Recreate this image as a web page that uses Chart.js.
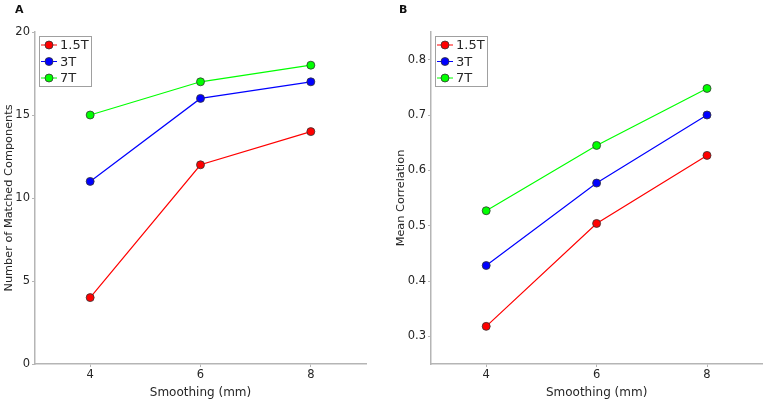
<!DOCTYPE html>
<html>
<head>
<meta charset="utf-8">
<script src="https://cdn.jsdelivr.net/npm/chart.js@4"></script>
<style>
  body { margin: 0; background: #fff; }
  #wrap { position: relative; width: 767px; height: 400px; font-family: "DejaVu Sans", sans-serif; }
  .panel { position: absolute; top: 0; height: 400px; }
  .tag { position: absolute; top: 3px; font-weight: bold; font-size: 11px; color: #111; }
</style>
</head>
<body>
<div id="wrap">
  <div class="panel" style="left:0;width:383px"><canvas id="chartA"></canvas></div>
  <div class="panel" style="left:383px;width:384px"><canvas id="chartB"></canvas></div>
  <div class="tag" style="left:15px">A</div>
  <div class="tag" style="left:399px">B</div>
</div>
<script>
// smoothing kernel sizes (mm)
const smoothing = [4, 6, 8];
const fields = ['1.5T', '3T', '7T'];
const colors = ['#ff0000', '#0000ff', '#00ff00'];

// panel A: number of matched components
const matched15 = [4, 12, 14];
const matched3 = [11, 16, 17];
const matched7 = [15, 17, 18];
const ticksA = [0, 5, 10, 15, 20];

// panel B: mean correlation
const corr15 = [0.318, 0.504, 0.627];
const corr3 = [0.428, 0.577, 0.700];
const corr7 = [0.527, 0.645, 0.748];
const ticksB = [0.3, 0.4, 0.5, 0.6, 0.7, 0.8];

const xTicks = [4, 6, 8];
const FONT = 'DejaVu Sans';
const AXIS = '#b5b5b5';
const TXT = '#262626';

// legend drawn inside the plot, like the matlab one
const boxLegend = {
    id: 'boxLegend',
    afterDraw(chart) {
        const ctx = chart.ctx;
        const a = chart.chartArea;
        const x0 = a.left + 4, y0 = a.top + 4;
        const w = 52, h = 50;
        ctx.save();
        ctx.fillStyle = '#fff';
        ctx.fillRect(x0, y0, w, h);
        ctx.strokeStyle = '#a0a0a0';
        ctx.lineWidth = 1;
        ctx.strokeRect(x0 + 0.5, y0 + 0.5, w, h);
        ctx.font = '13px "' + FONT + '"';
        ctx.textBaseline = 'middle';
        chart.data.datasets.forEach((ds, i) => {
            const y = y0 + 9 + i * 16.5;
            ctx.strokeStyle = ds.borderColor;
            ctx.lineWidth = 1;
            ctx.beginPath();
            ctx.moveTo(x0 + 2, y);
            ctx.lineTo(x0 + 18, y);
            ctx.stroke();
            ctx.beginPath();
            ctx.arc(x0 + 10, y, 4, 0, Math.PI * 2);
            ctx.fillStyle = ds.backgroundColor;
            ctx.fill();
            ctx.strokeStyle = '#333';
            ctx.lineWidth = 0.8;
            ctx.stroke();
            ctx.fillStyle = TXT;
            ctx.fillText(ds.label, x0 + 21, y + 1);
        });
        ctx.restore();
    }
};

function makeSets(series) {
    return series.map((vals, i) => ({
        label: fields[i],
        data: smoothing.map((s, j) => ({ x: s, y: vals[j] })),
        borderColor: colors[i],
        backgroundColor: colors[i],
        borderWidth: 1.2,
        pointRadius: 4,
        pointBorderColor: '#333',
        pointBorderWidth: 0.8,
        tension: 0
    }));
}

function makeChart(id, series, yTicks, yMin, yMax, yTitle, yWidth, titlePad, rightPad) {
    const ctx = document.getElementById(id).getContext('2d');
    return new Chart(ctx, {
        type: 'line',
        data: { datasets: makeSets(series) },
        plugins: [boxLegend],
        options: {
            responsive: true,
            maintainAspectRatio: false,
            animation: false,
            layout: { padding: { top: 32, right: rightPad, bottom: 0, left: 0 } },
            plugins: { legend: { display: false }, tooltip: { enabled: false } },
            scales: {
                x: {
                    type: 'linear',
                    min: 3, max: 9,
                    afterBuildTicks: s => { s.ticks = xTicks.map(v => ({ value: v })); },
                    afterFit: s => { s.height = 36; },
                    grid: { drawOnChartArea: false, color: AXIS, tickLength: 3 },
                    border: { color: AXIS, width: 1.5 },
                    ticks: { color: TXT, font: { family: FONT, size: 11.5 }, padding: 1 },
                    title: {
                        display: true, text: 'Smoothing (mm)', color: TXT,
                        font: { family: FONT, size: 12 }, padding: { top: 0, bottom: 0 }
                    }
                },
                y: {
                    min: yMin, max: yMax,
                    afterBuildTicks: s => { s.ticks = yTicks.map(v => ({ value: v })); },
                    afterFit: s => { s.width = yWidth; },
                    grid: { drawOnChartArea: false, color: AXIS, tickLength: 3 },
                    border: { color: AXIS, width: 1.5 },
                    ticks: { color: TXT, font: { family: FONT, size: 11.5 }, padding: 2 },
                    title: {
                        display: true, text: yTitle, color: TXT,
                        font: { family: FONT, size: 11.3 }, padding: { top: titlePad, bottom: 0 }
                    }
                }
            }
        }
    });
}

makeChart('chartA', [matched15, matched3, matched7], ticksA, 0, 20,
    'Number of Matched Components', 35, 2, 17);
makeChart('chartB', [corr15, corr3, corr7], ticksB, 0.25, 0.85,
    'Mean Correlation', 48, 11, 3);
</script>
</body>
</html>
